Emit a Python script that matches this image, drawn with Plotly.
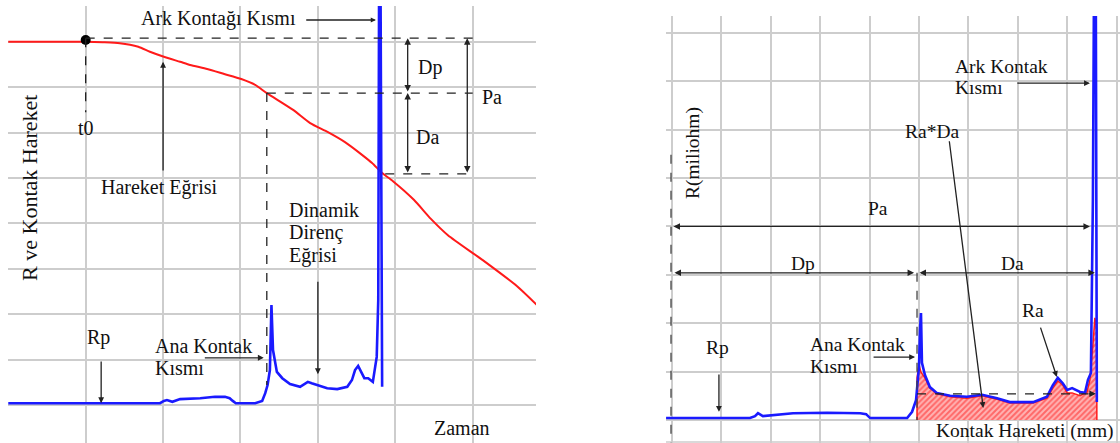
import plotly.graph_objects as go

# ---------------- data (grid units) ----------------
# Left panel: motion curve (Hareket Eğrisi) vs time
hareket_t = [0, 1.0, 1.22, 1.44, 1.68, 1.83, 2.01, 2.22, 2.35, 2.57, 2.79, 3.01, 3.19, 3.34,
             3.68, 3.90, 4.13, 4.35, 4.57, 4.70, 4.83, 4.97, 5.24, 5.46, 5.68, 6.13, 6.57, 6.83]
hareket_y = [8.0, 8.0, 7.99, 7.97, 7.89, 7.78, 7.67, 7.56, 7.49, 7.40, 7.29, 7.18, 7.05, 6.87,
             6.50, 6.21, 6.01, 5.79, 5.51, 5.33, 5.11, 4.93, 4.52, 4.10, 3.74, 3.19, 2.62, 2.20]

# Left panel: dynamic resistance curve vs time
direnc_t = [0, 1.96, 2.01, 2.05, 2.12, 2.22, 2.48, 2.67, 2.80, 2.86, 2.90, 2.94, 3.19, 3.28,
            3.32, 3.35, 3.38, 3.40, 3.42, 3.47, 3.54, 3.64, 3.77, 3.83, 3.87, 3.92, 3.99, 4.12,
            4.25, 4.38, 4.44, 4.48, 4.52, 4.57, 4.60, 4.65, 4.71, 4.74, 4.76, 4.78, 4.79, 4.81,
            4.82, 4.83]
direnc_y = [0.04, 0.04, 0.09, 0.11, 0.07, 0.13, 0.15, 0.18, 0.18, 0.15, 0.09, 0.04, 0.04, 0.09,
            0.26, 0.44, 0.77, 2.20, 1.21, 0.73, 0.59, 0.46, 0.40, 0.46, 0.51, 0.48, 0.44, 0.37,
            0.35, 0.40, 0.55, 0.77, 0.86, 0.70, 0.59, 0.59, 0.51, 0.84, 1.06, 2.31, 8.9, 8.9,
            2.31, 0.40]

# Right panel: resistance vs contact travel
kontak_x = [-0.12, 1.58, 1.68, 1.74, 1.84, 2.09, 2.45, 3.14, 3.81, 3.93, 4.01, 4.76, 4.86, 4.94,
            4.98, 5.00, 5.02, 5.04, 5.06, 5.12, 5.22, 5.36, 5.63, 5.97, 6.28, 6.58, 6.84, 7.31,
            7.59, 7.71, 7.81, 7.91, 8.00, 8.10, 8.26, 8.36, 8.42, 8.48, 8.52, 8.54, 8.58, 8.60]
kontak_r = [0.04, 0.04, 0.08, 0.14, 0.08, 0.10, 0.14, 0.15, 0.14, 0.12, 0.04, 0.04, 0.17, 0.41,
            0.83, 1.10, 1.86, 2.21, 1.18, 0.93, 0.68, 0.56, 0.50, 0.48, 0.52, 0.45, 0.37, 0.37,
            0.48, 0.72, 0.87, 0.76, 0.62, 0.66, 0.58, 0.56, 0.83, 0.97, 4.55, 8.5, 8.5, 0.37]

# Right panel: Ra*Da hatched area
alan_x = [4.96, 4.96, 5.00, 5.04, 5.12, 5.22, 5.36, 5.63, 5.97, 6.28, 6.58, 6.84, 7.31, 7.59,
          7.71, 7.81, 7.91, 8.00, 8.10, 8.26, 8.40, 8.46, 8.52, 8.56, 8.60, 8.60]
alan_y = [0.0, 0.87, 1.14, 0.99, 0.87, 0.66, 0.54, 0.48, 0.45, 0.50, 0.43, 0.35, 0.35, 0.45,
          0.66, 0.81, 0.72, 0.56, 0.56, 0.50, 0.58, 0.83, 1.55, 2.11, 1.86, 0.0]

FONT = "'Liberation Serif', 'Times New Roman', 'DejaVu Serif', serif"
GRID = "#cdcdcd"
BLUE = "#1a1aff"
RED = "#ff1a1a"
INK = "#111111"

fig = go.Figure()

fig.add_trace(go.Scatter(x=hareket_t, y=hareket_y, mode="lines", line=dict(color=RED, width=2, shape="spline", smoothing=0.6),
                         xaxis="x", yaxis="y", hoverinfo="skip"))
fig.add_trace(go.Scatter(x=direnc_t, y=direnc_y, mode="lines", line=dict(color=BLUE, width=2.6),
                         xaxis="x", yaxis="y", hoverinfo="skip"))
fig.add_trace(go.Scatter(x=[hareket_t[1]], y=[8.04], mode="markers", marker=dict(color="black", size=10),
                         xaxis="x", yaxis="y", hoverinfo="skip"))

fig.add_trace(go.Scatter(x=alan_x, y=alan_y, mode="lines", fill="toself",
                         fillpattern=dict(shape="/", fgcolor=RED, bgcolor="#ffb4b4", size=4, solidity=0.5),
                         line=dict(color=RED, width=1.5), xaxis="x2", yaxis="y2", hoverinfo="skip"))
fig.add_trace(go.Scatter(x=kontak_x, y=kontak_r, mode="lines", line=dict(color=BLUE, width=2.6),
                         xaxis="x2", yaxis="y2", hoverinfo="skip"))

shapes = []
def dash(x0, y0, x1, y1, ref="", color="#222", w=1.3):
    shapes.append(dict(type="line", x0=x0, y0=y0, x1=x1, y1=y1, xref="x" + ref, yref="y" + ref,
                       line=dict(color=color, width=w, dash="dash")))

# left dashed guides
dash(1.0, 8.08, 6.0, 8.08)
dash(3.34, 6.87, 6.0, 6.87)
dash(4.87, 5.09, 6.0, 5.09)
dash(1.0, 8.08, 1.0, 6.45)
dash(3.34, 6.87, 3.34, 0.44)
# right dashed guides
dash(-0.02, 5.48, -0.02, -0.6, "2", "#444")
dash(4.96, 3.04, 4.96, 0.0, "2", "#444")
dash(4.96, 0.54, 8.5, 0.54, "2", "#222")
shapes.append(dict(type="line", x0=-0.13, x1=9.1, y0=-0.455, y1=-0.455, xref="x2", yref="y2",
                   line=dict(color=GRID, width=1.5), layer="below"))

ann = []
def arrow(hx, hy, tx, ty, ref="", both=False, head=2, color="#222", w=1.3, size=1.0):
    d = dict(x=hx, y=hy, ax=tx, ay=ty, xref="x" + ref, yref="y" + ref, axref="x" + ref, ayref="y" + ref,
             showarrow=True, text="", arrowhead=head, arrowsize=size, arrowwidth=w, arrowcolor=color,
             standoff=0, startstandoff=0)
    if both:
        d["arrowside"] = "end+start"
        d["startarrowhead"] = head
        d["startarrowsize"] = size
    ann.append(d)

def text(x, y, s, ref="", size=20, xanchor="center", angle=0):
    ann.append(dict(x=x, y=y, xref="x" + ref, yref="y" + ref, text=s, showarrow=False,
                    xanchor=xanchor, yanchor="middle", textangle=angle,
                    font=dict(family=FONT, size=size, color=INK)))

# left arrows
arrow(4.75, 8.48, 3.83, 8.48, head=2, size=0.8)
arrow(5.16, 8.08, 5.16, 6.87, both=True)
arrow(5.16, 6.87, 5.16, 5.09, both=True)
arrow(5.93, 8.08, 5.93, 5.09, both=True)
arrow(2.0, 7.56, 2.0, 5.13, size=0.9)
arrow(4.0, 0.68, 4.0, 2.75, size=0.9)
arrow(1.2, 0.04, 1.2, 0.99, size=0.9)
arrow(3.30, 1.04, 2.52, 1.04, size=0.9)

# left texts
text(2.71, 8.52, "Ark Kontağı Kısmı")
text(1.0, 6.10, "t0")
text(1.96, 4.80, "Hareket Eğrisi")
text(3.60, 4.30, "Dinamik", xanchor="left")
text(3.60, 3.79, "Direnç", xanchor="left")
text(3.60, 3.30, "Eğrisi", xanchor="left")
text(1.17, 1.48, "Rp")
text(1.87, 1.30, "Ana Kontak", xanchor="left")
text(1.87, 0.81, "Kısmı", xanchor="left")
text(5.86, -0.51, "Zaman")
text(5.45, 7.44, "Dp")
text(5.41, 5.90, "Da")
text(6.25, 6.78, "Pa")
text(0.28, 4.78, "R ve Kontak Hareket", size=22, angle=-90)

# right arrows
arrow(8.46, 4.0, 0.0, 4.0, "2", both=True)
arrow(4.90, 3.04, 0.02, 3.04, "2", both=True)
arrow(8.56, 3.04, 4.98, 3.04, "2", both=True)
arrow(8.58, 0.54, 8.4, 0.54, "2")
arrow(0.95, 0.17, 0.95, 0.97, "2", size=0.9)
arrow(4.92, 1.30, 4.05, 1.30, "2", size=0.9)
arrow(6.30, 0.25, 5.61, 5.79, "2", size=0.9)
arrow(7.79, 0.89, 7.45, 1.94, "2", size=0.9)
arrow(8.46, 6.96, 6.96, 6.96, "2", size=0.9)

# right texts
text(4.17, 4.38, "Pa", "2", 19.5)
text(2.65, 3.24, "Dp", "2", 19.5)
text(6.90, 3.24, "Da", "2", 19.5)
text(0.93, 1.49, "Rp", "2", 19.5)
text(2.75, 1.55, "Ana Kontak", "2", 19.5, xanchor="left")
text(2.75, 1.10, "Kısmı", "2", 19.5, xanchor="left")
text(5.26, 5.97, "Ra*Da", "2", 19.5)
text(7.31, 2.27, "Ra", "2", 19.5)
text(5.69, 7.31, "Ark Kontak", "2", 19.5, xanchor="left")
text(5.69, 6.86, "Kısmı", "2", 19.5, xanchor="left")
text(0.43, 5.52, "R(miliohm)", "2", 19.5, angle=-90)
text(7.15, -0.23, "Kontak Hareketi (mm)", "2", 19.5)

W, H = 1120, 443
ax_common = dict(showgrid=True, gridcolor=GRID, gridwidth=1.5, dtick=1, tick0=0, zeroline=False,
                 showticklabels=False, ticks="", showline=False, fixedrange=True)

fig.update_layout(
    width=W, height=H, margin=dict(l=0, r=0, t=0, b=0),
    paper_bgcolor="white", plot_bgcolor="white", showlegend=False,
    font=dict(family=FONT),
    xaxis=dict(domain=[7.5 / W, 536 / W], range=[-0.01, (536 - 8.3) / 77.4], anchor="y", **ax_common),
    yaxis=dict(domain=[0, 1 - 6 / H], range=[(405 - 443) / 45.4, (405 - 6) / 45.4], anchor="x", **ax_common),
    xaxis2=dict(domain=[666 / W, 1], range=[(666 - 672) / 49.4, (1120 - 672) / 49.4], anchor="y2", **ax_common),
    yaxis2=dict(domain=[0, 1 - 16 / H], range=[(420 - 443) / 48.4, (420 - 16) / 48.4], anchor="x2", **ax_common),
    shapes=shapes, annotations=ann,
)

fig.write_html("out.html", config={"displayModeBar": False})
